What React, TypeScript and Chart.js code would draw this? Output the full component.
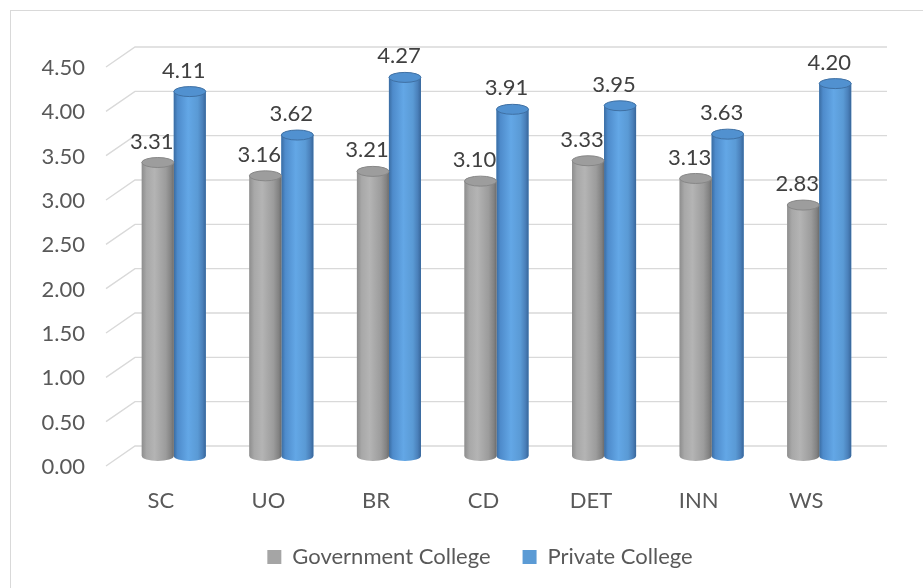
import React, { useEffect, useRef } from "react";
import { Chart, registerables } from "chart.js";

Chart.register(...registerables);

const categories = ["SC", "UO", "BR", "CD", "DET", "INN", "WS"];
const governmentCollege = [3.31, 3.16, 3.21, 3.1, 3.33, 3.13, 2.83];
const privateCollege = [4.11, 3.62, 4.27, 3.91, 3.95, 3.63, 4.2];
const seriesNames = ["Government College", "Private College"];
const yMin = 0;
const yMax = 4.5;
const yStep = 0.5;

const FONT = "Lato, 'Open Sans', sans-serif";
const FS = 22;

const grayStops: [number, string][] = [
  [0, "#8e8e8e"],
  [0.15, "#a8a8a8"],
  [0.4, "#b4b4b4"],
  [0.75, "#9c9c9c"],
  [0.92, "#828282"],
  [1, "#6c6c6c"],
];
const blueStops: [number, string][] = [
  [0, "#3a6ca2"],
  [0.12, "#4e8bcb"],
  [0.45, "#63a7e6"],
  [0.75, "#5a9ad5"],
  [0.9, "#4a80ba"],
  [1, "#38669a"],
];

function drawCylinder(
  ctx: CanvasRenderingContext2D,
  x: number,
  top: number,
  base: number,
  w: number,
  stops: [number, string][],
  topFill: string,
  topStroke: string
) {
  const l = x - w / 2;
  const r = x + w / 2;
  const rx = w / 2;
  const ry = 5;
  const g = ctx.createLinearGradient(l, 0, r, 0);
  stops.forEach(([o, c]) => g.addColorStop(o, c));
  ctx.save();
  ctx.fillStyle = g;
  ctx.beginPath();
  ctx.moveTo(l, top);
  ctx.lineTo(l, base);
  ctx.ellipse(x, base, rx, ry, 0, Math.PI, 0, true);
  ctx.lineTo(r, top);
  ctx.closePath();
  ctx.fill();
  ctx.beginPath();
  ctx.ellipse(x, top, rx, ry, 0, 0, Math.PI * 2);
  ctx.fillStyle = topFill;
  ctx.fill();
  ctx.strokeStyle = topStroke;
  ctx.lineWidth = 1;
  ctx.stroke();
  ctx.restore();
}

const decorPlugin = {
  id: "decor3d",
  beforeDraw(chart: any) {
    const ctx = chart.ctx;
    ctx.save();
    ctx.strokeStyle = "#d9d9d9";
    ctx.lineWidth = 1;
    ctx.strokeRect(10.5, 10.5, 960, 620);
    ctx.restore();
  },
  beforeDatasetsDraw(chart: any) {
    const ctx = chart.ctx;
    const ys = chart.scales.y;
    const area = chart.chartArea;
    ctx.save();
    ctx.strokeStyle = "#d9d9d9";
    ctx.lineWidth = 1.4;
    ys.ticks.forEach((t: any) => {
      const py = ys.getPixelForValue(t.value);
      ctx.beginPath();
      ctx.moveTo(area.left - 14, py + 10);
      ctx.lineTo(area.left + 15, py - 10);
      ctx.lineTo(area.right + 14, py - 10);
      ctx.stroke();
    });
    ctx.restore();
  },
  afterDatasetDraw(chart: any, args: any) {
    const ctx = chart.ctx;
    const idx = args.index;
    const meta = args.meta;
    const values = chart.data.datasets[idx].data as number[];
    meta.data.forEach((el: any, i: number) => {
      const p = el.getProps(["x", "y", "base", "width"], true);
      if (idx === 0) {
        drawCylinder(ctx, p.x, p.y, p.base, p.width, grayStops, "#9d9d9d", "#878787");
      } else {
        drawCylinder(ctx, p.x, p.y, p.base, p.width, blueStops, "#5191d0", "#3f70a3");
      }
      ctx.save();
      ctx.font = `${FS}px ${FONT}`;
      ctx.fillStyle = "#404040";
      ctx.textAlign = "center";
      ctx.textBaseline = "middle";
      ctx.fillText(values[i].toFixed(2), p.x - 6, p.y - 21);
      ctx.restore();
    });
  },
};

export default function App() {
  const canvasRef = useRef<HTMLCanvasElement | null>(null);

  useEffect(() => {
    if (!canvasRef.current) return;
    const chart = new Chart(canvasRef.current, {
      type: "bar",
      data: {
        labels: categories,
        datasets: [
          {
            label: seriesNames[0],
            data: governmentCollege,
            backgroundColor: "#a5a5a5",
            borderWidth: 0,
            categoryPercentage: 0.595,
            barPercentage: 1,
          },
          {
            label: seriesNames[1],
            data: privateCollege,
            backgroundColor: "#5b9bd5",
            borderWidth: 0,
            categoryPercentage: 0.595,
            barPercentage: 1,
          },
        ],
      },
      options: {
        animation: false,
        responsive: false,
        maintainAspectRatio: false,
        layout: { padding: { left: 37, right: 0, top: 57, bottom: 10 } },
        plugins: {
          legend: {
            position: "bottom",
            labels: {
              boxWidth: 14,
              boxHeight: 14,
              padding: 32,
              color: "#595959",
              font: { family: FONT, size: FS },
            },
          },
          tooltip: { enabled: false },
        },
        scales: {
          x: {
            grid: { display: false, drawTicks: false },
            border: { display: false },
            ticks: {
              color: "#595959",
              font: { family: FONT, size: FS },
              labelOffset: -13,
              padding: 32,
            },
            afterFit: (scale: any) => {
              scale.height = 58;
            },
          },
          y: {
            min: yMin,
            max: yMax,
            grid: { display: false, drawTicks: false },
            border: { display: false },
            ticks: {
              stepSize: yStep,
              color: "#595959",
              font: { family: FONT, size: FS },
              labelOffset: 11,
              padding: 35,
              callback: (v: any) => Number(v).toFixed(2),
            },
            afterFit: (scale: any) => {
              scale.width = 83;
            },
          },
          yRight: {
            axis: "y",
            position: "right",
            display: true,
            grid: { display: false, drawTicks: false },
            border: { display: false },
            ticks: { display: false },
            afterFit: (scale: any) => {
              scale.width = 50;
            },
          },
        },
      },
      plugins: [decorPlugin],
    });
    return () => chart.destroy();
  }, []);

  return (
    <div style={{ position: "fixed", left: 0, top: 0, width: 923, height: 588, background: "#ffffff" }}>
      <canvas ref={canvasRef} width={923} height={588} style={{ width: 923, height: 588 }} />
    </div>
  );
}
